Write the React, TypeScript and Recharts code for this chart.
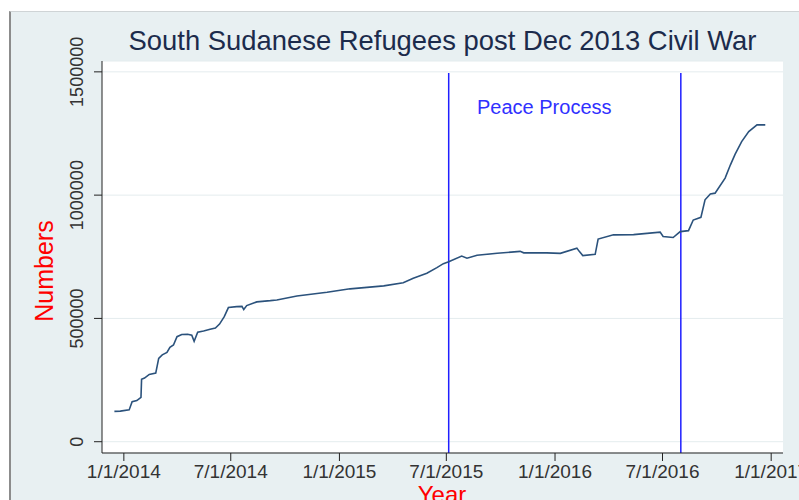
import {
  LineChart, Line, XAxis, YAxis, CartesianGrid, ReferenceLine, Label,
} from "recharts";

// refugee counts (UNHCR style figures)
const dates = [
  "2013-12-16", "2013-12-26", "2014-01-10", "2014-01-15", "2014-01-23", "2014-01-30",
  "2014-01-31", "2014-02-05", "2014-02-13", "2014-02-24", "2014-03-01", "2014-03-07",
  "2014-03-15", "2014-03-20", "2014-03-26", "2014-04-01", "2014-04-09", "2014-04-19",
  "2014-04-26", "2014-04-30", "2014-05-06", "2014-05-16", "2014-05-27", "2014-06-05",
  "2014-06-12", "2014-06-20", "2014-06-27", "2014-07-11", "2014-07-20", "2014-07-23",
  "2014-07-28", "2014-08-14", "2014-09-06", "2014-09-17", "2014-10-21", "2014-12-11",
  "2015-01-19", "2015-03-17", "2015-04-19", "2015-05-06", "2015-05-29", "2015-06-15",
  "2015-06-26", "2015-07-05", "2015-07-27", "2015-08-05", "2015-08-22", "2015-09-25",
  "2015-11-03", "2015-11-09", "2015-12-18", "2016-01-10", "2016-02-07", "2016-02-11",
  "2016-02-17", "2016-03-09", "2016-03-14", "2016-04-09", "2016-05-13", "2016-06-27",
  "2016-07-02", "2016-07-19", "2016-07-31", "2016-08-14", "2016-08-22", "2016-09-04",
  "2016-09-11", "2016-09-20", "2016-09-28", "2016-10-15", "2016-10-24", "2016-11-01",
  "2016-11-12", "2016-11-24", "2016-12-08", "2016-12-22",
];
const refugees = [
  123000, 124000, 129000, 162000, 167000, 180000,
  253000, 258000, 273000, 278000, 338000, 352000,
  362000, 383000, 392000, 426000, 435000, 436000,
  432000, 407000, 444000, 449000, 456000, 461000,
  477000, 507000, 544000, 548000, 549000, 536000,
  552000, 567000, 572000, 575000, 591000, 606000,
  620000, 632000, 645000, 663000, 683000, 706000,
  722000, 730000, 753000, 744000, 756000, 764000,
  772000, 766000, 766000, 764000, 785000, 772000,
  755000, 760000, 822000, 839000, 840000, 850000,
  832000, 828000, 852000, 856000, 899000, 910000,
  981000, 1005000, 1008000, 1069000, 1123000, 1166000,
  1217000, 1258000, 1285000, 1285000,
];
const xTicks = ["2014-01-01", "2014-07-01", "2015-01-01", "2015-07-01", "2016-01-01", "2016-07-01", "2017-01-01"];
const yTicks = [0, 500000, 1000000, 1500000];
const events = ["2015-07-05", "2016-08-01"];

const ts = (s: string) => Date.parse(s + "T00:00:00Z");
const data = dates.map((d, i) => ({ t: ts(d), n: refugees[i] }));

const X_MIN = ts("2013-11-25");
const X_MAX = ts("2017-01-21");
const Y_MIN = -45800;
const Y_MAX = 1544000;

const FONT = "'Liberation Sans', Arial, sans-serif";
const BLUE = "#1f1fff";

const fmtDate = (v: number) => {
  const d = new Date(v);
  return `${d.getUTCMonth() + 1}/${d.getUTCDate()}/${d.getUTCFullYear()}`;
};

function YTick({ y, payload }: any) {
  return (
    <g>
      <text x={83} y={y} transform={`rotate(-90, 83, ${y})`} textAnchor="middle"
        fill="#333" fontSize={18} fontFamily={FONT}>{payload.value}</text>
    </g>
  );
}

export default function App() {
  return (
    <div style={{ position: "absolute", left: 0, top: 0, width: 799, height: 500, background: "#fff", overflow: "hidden" }}>
      <div style={{
        position: "absolute", left: 9, top: 11, width: 790, height: 489,
        background: "#e8f0f2", borderTop: "1px solid #cfd4d6", borderLeft: "2px solid #8c8c8c",
      }} />
      <div style={{
        position: "absolute", left: 0, top: 25, width: 885, textAlign: "center",
        fontFamily: FONT, fontSize: 27.4, color: "#1c2b4c", whiteSpace: "nowrap",
      }}>South Sudanese Refugees post Dec 2013 Civil War</div>
      <div style={{ position: "absolute", left: 0, top: 0 }}>
        <LineChart width={799} height={500} data={data}
          margin={{ left: 42, right: 16, top: 61, bottom: 17 }}>
          <CartesianGrid vertical={false} fill="#ffffff" stroke="#e4ecee" />
          <XAxis dataKey="t" type="number" scale="linear" domain={[X_MIN, X_MAX]}
            ticks={xTicks.map(ts)} tickFormatter={fmtDate} height={30}
            stroke="#222" tickSize={8} interval={0} allowDataOverflow
            tick={{ fill: "#333", fontSize: 19, fontFamily: FONT, dy: 2 }}>
            <Label content={() => (
              <text x={442} y={503} textAnchor="middle" fill="#ff0000" fontSize={24} fontFamily={FONT}>Year</text>
            )} />
          </XAxis>
          <YAxis type="number" domain={[Y_MIN, Y_MAX]} ticks={yTicks} width={60}
            stroke="#222" tickSize={8} interval={0} allowDataOverflow tick={<YTick />}>
            <Label content={() => (
              <text x={53} y={271} transform="rotate(-90, 53, 271)" textAnchor="middle"
                fill="#ff0000" fontSize={25} fontFamily={FONT}>Numbers</text>
            )} />
          </YAxis>
          {events.map((e, i) => (
            <ReferenceLine key={e} segment={[{ x: ts(e), y: 1495000 }, { x: ts(e), y: Y_MIN }]}
              stroke={BLUE} strokeWidth={1.5}
              label={i === 0 ? (
                <Label content={() => (
                  <text x={477} y={114} fill="#3030ff" fontSize={20} fontFamily={FONT}>Peace Process</text>
                )} />
              ) : undefined} />
          ))}
          <Line dataKey="n" type="linear" stroke="#2b527c" strokeWidth={1.6}
            dot={false} isAnimationActive={false} />
        </LineChart>
      </div>
    </div>
  );
}
